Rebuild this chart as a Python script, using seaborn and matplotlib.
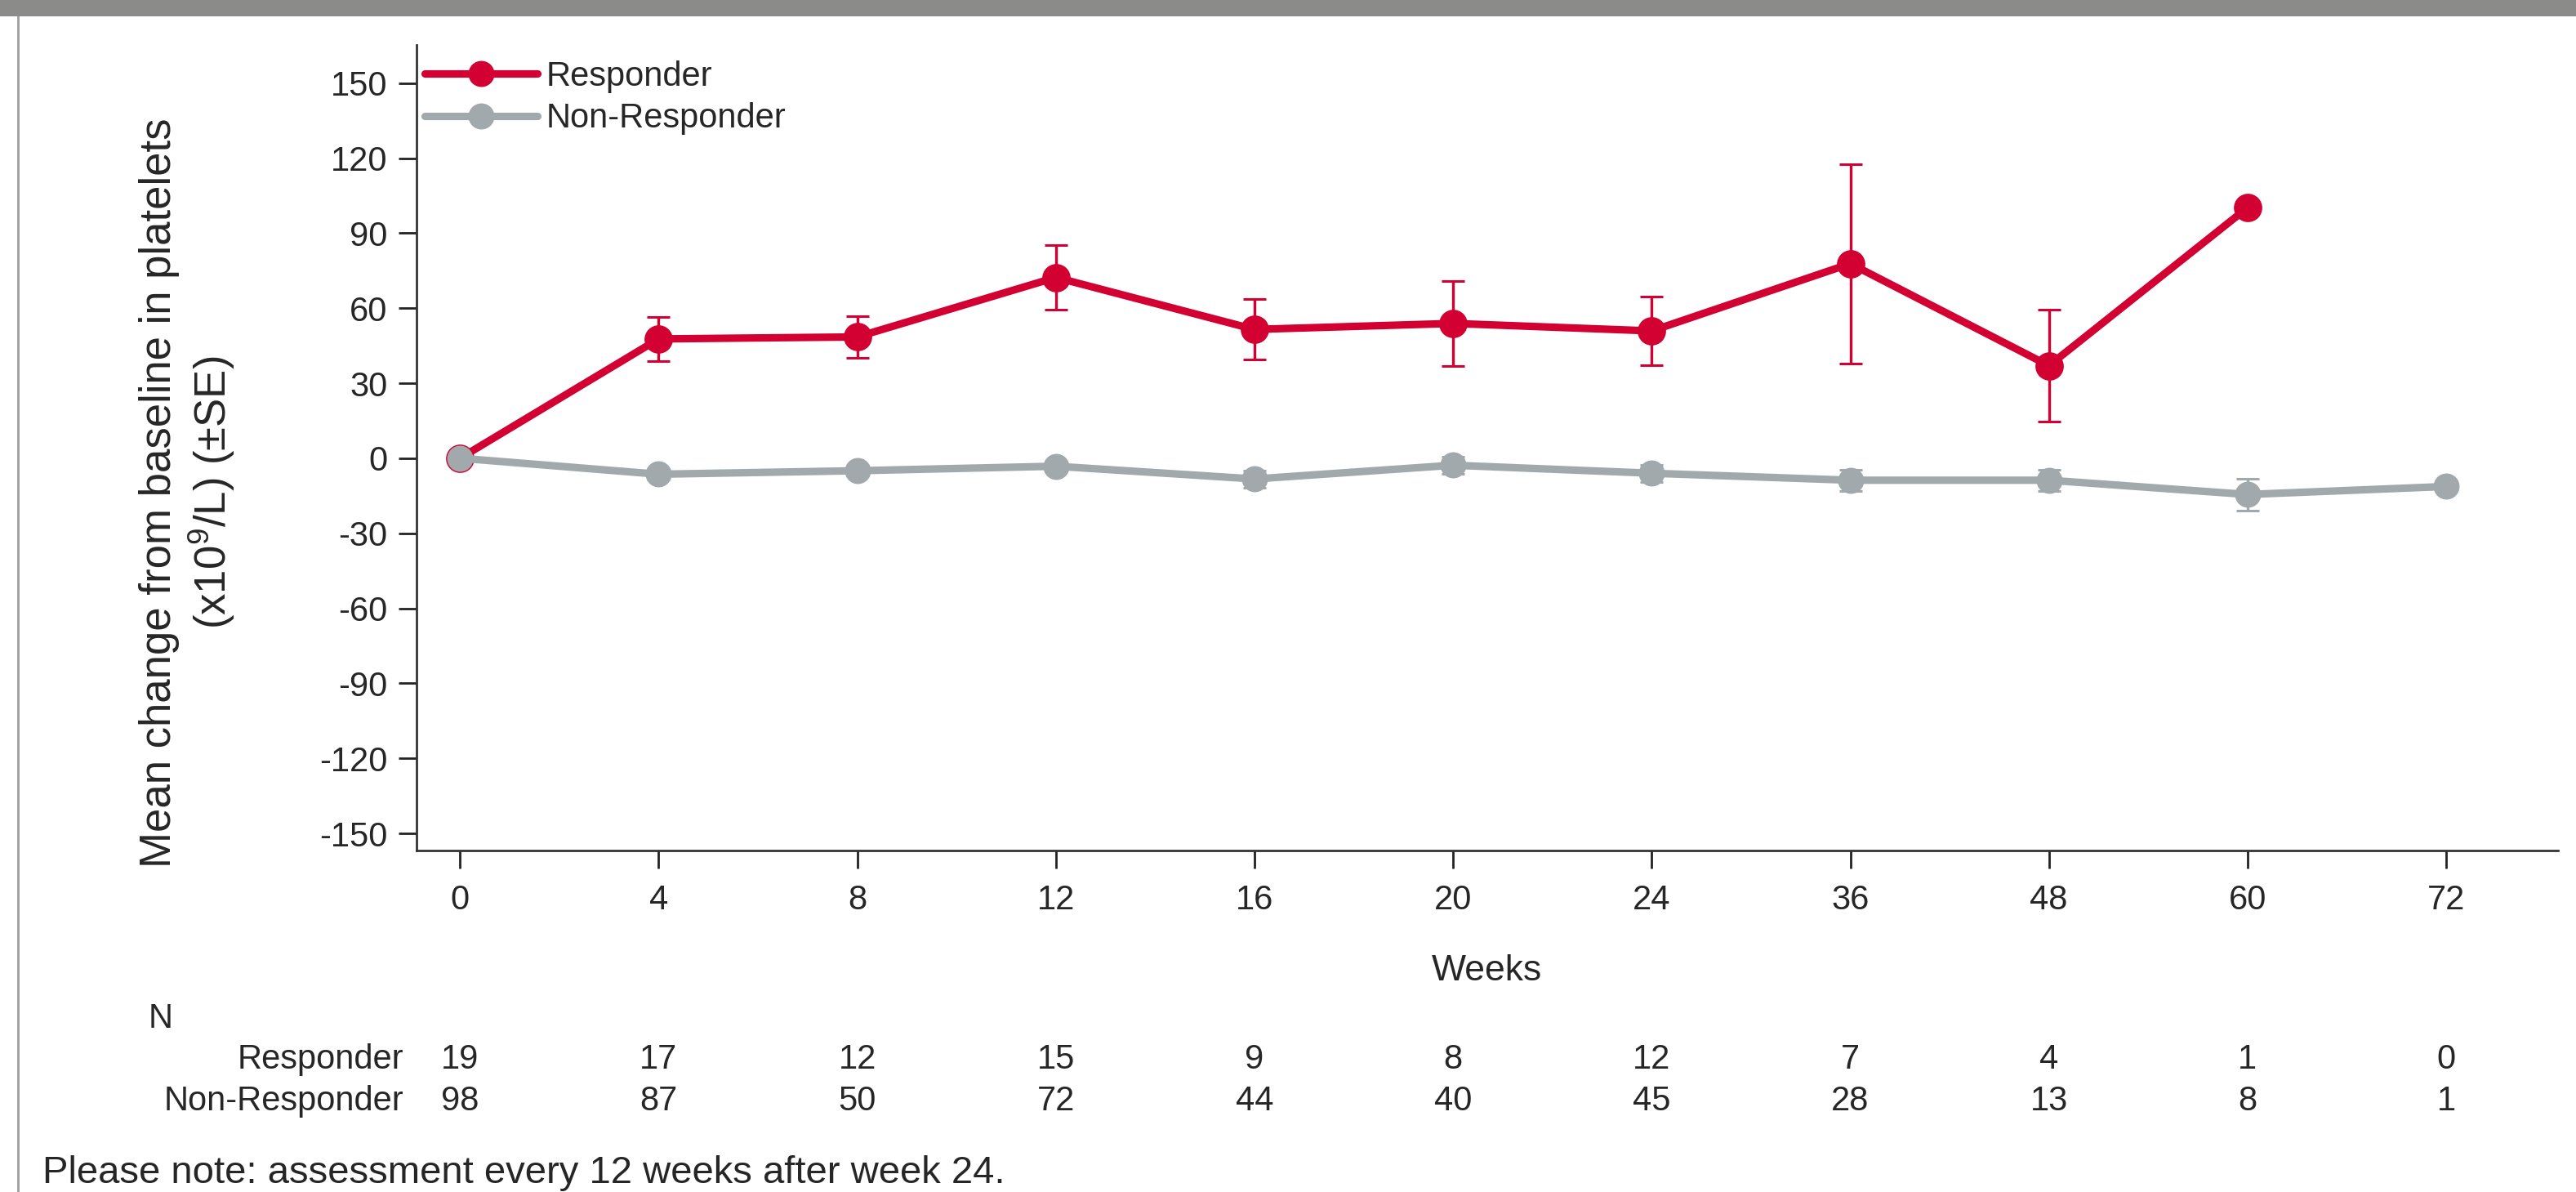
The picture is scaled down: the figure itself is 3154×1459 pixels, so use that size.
import numpy as np
import pandas as pd
import matplotlib
matplotlib.use("Agg")
import matplotlib.pyplot as plt
import matplotlib.transforms as mtransforms
from matplotlib.patches import Rectangle
import seaborn as sns

# ---- data -------------------------------------------------------------
weeks = ["0", "4", "8", "12", "16", "20", "24", "36", "48", "60", "72"]

resp_mean = [0.0, 47.7, 48.5, 72.3, 51.5, 53.9, 50.9, 77.8, 37.0, 100.2]
resp_se = [0.0, 8.9, 8.4, 13.0, 12.0, 16.9, 13.6, 39.9, 22.5, np.nan]

nonresp_mean = [0.0, -6.4, -5.0, -3.2, -8.3, -2.8, -6.0, -8.8, -8.8, -14.5, -11.3]
nonresp_se = [0.0, 2.0, 2.0, 2.0, 3.5, 3.5, 3.5, 4.3, 4.3, 6.3, np.nan]

n_resp = [19, 17, 12, 15, 9, 8, 12, 7, 4, 1, 0]
n_nonresp = [98, 87, 50, 72, 44, 40, 45, 28, 13, 8, 1]

groups = ["Responder", "Non-Responder"]
colors = {"Responder": "#D30032", "Non-Responder": "#A2A9AD"}

y_ticks = list(range(-150, 151, 30))

# ---- long-format table ---------------------------------------------------
rows = []
for grp, means, ses in [("Responder", resp_mean, resp_se),
                        ("Non-Responder", nonresp_mean, nonresp_se)]:
    for i, (m, s) in enumerate(zip(means, ses)):
        rows.append({"group": grp, "pos": i, "week": weeks[i], "mean": m, "se": s})
df = pd.DataFrame(rows)

# ---- style ---------------------------------------------------------------
sns.set_style("white")
plt.rcParams["font.family"] = ["Liberation Sans", "DejaVu Sans"]
plt.rcParams["axes.unicode_minus"] = False
plt.rcParams["mathtext.fontset"] = "custom"
plt.rcParams["mathtext.rm"] = "Liberation Sans"
plt.rcParams["mathtext.it"] = "Liberation Sans:italic"

W, H, DPI = 3154, 1459, 200
fig = plt.figure(figsize=(W / DPI, H / DPI), dpi=DPI)
fig.patch.set_facecolor("white")

# page frame: dark band along the top and a thin rule on the left
fig.patches.append(Rectangle((0, 1 - 20 / H), 1, 20 / H, transform=fig.transFigure,
                             facecolor="#8B8B89", edgecolor="none", zorder=0))
fig.patches.append(Rectangle((21 / W, 0), 3 / W, 1 - 20 / H, transform=fig.transFigure,
                             facecolor="#A3A3A3", edgecolor="none", zorder=0))

ax = fig.add_axes([510 / W, 1 - 1041 / H, (3131.7 - 510) / W, (1041 - 55) / H])

# lines + markers
sns.lineplot(data=df, x="pos", y="mean", hue="group", hue_order=groups,
             palette=colors, marker="o", markersize=11.5, markeredgewidth=0,
             linewidth=3.3, errorbar=None, ax=ax, legend=True,
             estimator=None, sort=False)

# standard-error bars
for grp in groups:
    sub = df[(df["group"] == grp) & df["se"].notna() & (df["se"] > 0)]
    ax.errorbar(sub["pos"], sub["mean"], yerr=sub["se"], fmt="none",
                ecolor=colors[grp], elinewidth=1.2, capsize=5.2, capthick=1.1,
                zorder=1.5)

# non-responder series sits on top of the responder one at baseline
for l in ax.lines:
    c = matplotlib.colors.to_hex(l.get_color()).lower()
    if c == colors["Non-Responder"].lower():
        l.set_zorder(3)
    elif c == colors["Responder"].lower():
        l.set_zorder(2.5)
        l.set_markeredgewidth(1.0)
        l.set_markeredgecolor(colors["Responder"])

# axes
ax.set_xlim(-0.219, 10.562)
ax.set_ylim(-156.86, 165.26)
ax.set_xticks(range(len(weeks)))
ax.set_xticklabels(weeks)
ax.set_yticks(y_ticks)
ax.set_yticklabels([str(v) for v in y_ticks])
ax.tick_params(axis="both", which="major", labelsize=15, color="#222222",
               width=1.0, length=7.8, direction="out",
               bottom=True, left=True, top=False, right=False)
ax.tick_params(axis="x", pad=7)
ax.tick_params(axis="y", pad=5)
for side in ["top", "right"]:
    ax.spines[side].set_visible(False)
for side in ["left", "bottom"]:
    ax.spines[side].set_color("#333333")
    ax.spines[side].set_linewidth(1.0)

ax.set_ylabel("")
ax.set_xlabel("Weeks", fontsize=16)
ax.xaxis.label.set_va("baseline")
ax.xaxis.set_label_coords(0.5, -(1200 - 1041) / (1041 - 55))

# y-axis title
fig.text(230 / W, 1 - 603 / H,
         "Mean change from baseline in platelets\n(x10$^{9}$/L) (±SE)",
         rotation=90, ha="center", va="center", fontsize=19,
         multialignment="center", linespacing=1.2)

# legend
leg = ax.legend(loc="upper left", bbox_to_anchor=(0.004, 0.981), frameon=False,
                fontsize=15, handlelength=3.3, handletextpad=0.25,
                labelspacing=0.28, borderpad=0, borderaxespad=0)
for h in leg.legend_handles:
    h.set_linewidth(3.3)
    h.set_markersize(11.5)
    h.set_markeredgewidth(0)

# number-at-risk table
blend = mtransforms.blended_transform_factory(ax.transData, fig.transFigure)
fig.text(182 / W, 1 - 1258 / H, "N", fontsize=15, ha="left", va="baseline")
for label, counts, yb in [("Responder", n_resp, 1308),
                          ("Non-Responder", n_nonresp, 1359)]:
    fig.text(494 / W, 1 - yb / H, label, fontsize=15, ha="right", va="baseline")
    for i, c in enumerate(counts):
        ax.text(i, 1 - yb / H, str(c), transform=blend, fontsize=15,
                ha="center", va="baseline", clip_on=False)

fig.text(52 / W, 1 - 1448 / H,
         "Please note: assessment every 12 weeks after week 24.",
         fontsize=17, ha="left", va="baseline")

fig.savefig("out.png", dpi=DPI, facecolor="white")
